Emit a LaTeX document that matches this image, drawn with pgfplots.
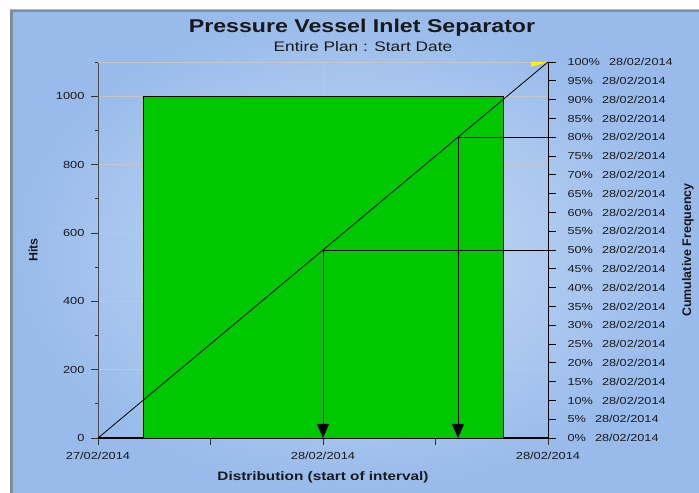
\documentclass[border=0pt]{standalone}
\usepackage{fontspec}
\setmainfont{Liberation Sans}[FakeStretch=1.25]
\newfontfamily\rotfont{Liberation Sans}
\usepackage{pgfplots}
\pgfplotsset{compat=1.18}
\usetikzlibrary{arrows.meta}
\definecolor{bgout}{RGB}{152,187,235}
\definecolor{bgin}{RGB}{202,220,246}
\definecolor{bargreen}{RGB}{0,200,0}
\definecolor{gridgray}{RGB}{198,198,198}
\definecolor{framegray}{RGB}{128,140,158}
\definecolor{txt}{RGB}{25,25,25}
\begin{document}
\begin{tikzpicture}
\path[use as bounding box] (0bp,0bp) rectangle (699bp,493bp);
\fill[white] (0bp,0bp) rectangle (699bp,493bp);
\shade[inner color=bgin, outer color=bgout] (10bp,0bp) rectangle (699bp,483bp);
\draw[framegray, line width=2.5bp] (11.25bp,0bp) -- (11.25bp,481.75bp) -- (699bp,481.75bp);
\begin{axis}[
  at={(98bp,55bp)}, anchor=south west, scale only axis,
  width=450bp, height=376bp,
  xmin=0, xmax=4, ymin=0, ymax=1100,
  axis x line*=bottom, axis y line*=left,
  x axis line style={-, black, line width=1.2bp},
  y axis line style={-, black!70},
  /pgf/number format/assume math mode=true,
  /pgf/number format/1000 sep={},
  xtick={0,1,2,3,4},
  xticklabels={27/02/2014,,28/02/2014,,28/02/2014},
  ytick={0,200,...,1000},
  minor ytick={100,300,...,1100},
  ymajorgrids, grid style={gridgray, line width=0.8bp},
  tick align=outside, major tick length=7bp, minor tick length=3bp,
  tick style={black!80, line width=0.8bp},
  ticklabel style={font=\fontsize{10.3}{11}\selectfont, text=txt},
  xticklabel style={yshift=-4bp},
  yticklabel style={xshift=-3bp},
  xlabel={Distribution (start of interval)},
  ylabel={Hits},
  xlabel style={font=\bfseries\fontsize{12.3}{14}\selectfont, text=txt, at={(axis description cs:0.5,-0.104)}, anchor=center},
  ylabel style={font=\rotfont\bfseries\fontsize{12.5}{14}\selectfont, text=txt, at={(axis description cs:-0.144,0.5)}, anchor=center, rotate=0},
  clip=false,
]
\draw[gridgray, line width=0.8bp] (axis cs:0,1100) -- (axis cs:4,1100);
\draw[gridgray, line width=0.8bp] (axis cs:2,0) -- (axis cs:2,1100);
\addplot[fill=bargreen, draw=black, line width=0.9bp] coordinates {(0.4,0) (0.4,1000) (3.6,1000) (3.6,0)} -- cycle;
\addplot[fill=yellow, draw=none] coordinates {(3.85,1100) (4,1100) (3.85,1086)} -- cycle;
\addplot[black, line width=0.8bp] coordinates {(0,0) (4,1100)};
\addplot[black, line width=0.9bp] coordinates {(4,550) (2,550)};
\addplot[black, line width=0.9bp] coordinates {(4,880) (3.2,880)};
\addplot[black, line width=0.9bp, -{Triangle[length=14bp, width=12bp]}] coordinates {(2,550) (2,0)};
\addplot[black, line width=0.9bp, -{Triangle[length=14bp, width=12bp]}] coordinates {(3.2,880) (3.2,0)};
\end{axis}
\begin{axis}[
  at={(98bp,55bp)}, anchor=south west, scale only axis,
  width=450bp, height=376bp,
  xmin=0, xmax=4, ymin=0, ymax=100,
  axis x line=none, axis y line*=right,
  y axis line style={-, black, line width=1bp},
  /pgf/number format/assume math mode=true,
  ytick={0,5,...,100},
  yticklabel={\pgfmathprintnumber[fixed,precision=0]{\tick}\%\hspace{0.9em}28/02/2014},
  yticklabel style={font=\fontsize{10.2}{11}\selectfont, text=txt, anchor=west, xshift=8bp},
  tick align=outside, major tick length=8bp,
  tick style={black, line width=0.8bp},
  ylabel={Cumulative Frequency},
  ylabel style={font=\rotfont\bfseries\fontsize{12.5}{14}\selectfont, text=txt, at={(axis description cs:1.311,0.5)}, anchor=center, rotate=0},
]
\addplot[draw=none] coordinates {(0,0)};
\end{axis}
\node[font=\bfseries\fontsize{18.6}{20}\selectfont, text=txt, anchor=base] at (362bp,460bp) {Pressure Vessel Inlet Separator};
\node[font=\fontsize{13.9}{16}\selectfont, text=txt, anchor=base] at (363bp,441bp) {Entire Plan : Start Date};
\end{tikzpicture}
\end{document}
